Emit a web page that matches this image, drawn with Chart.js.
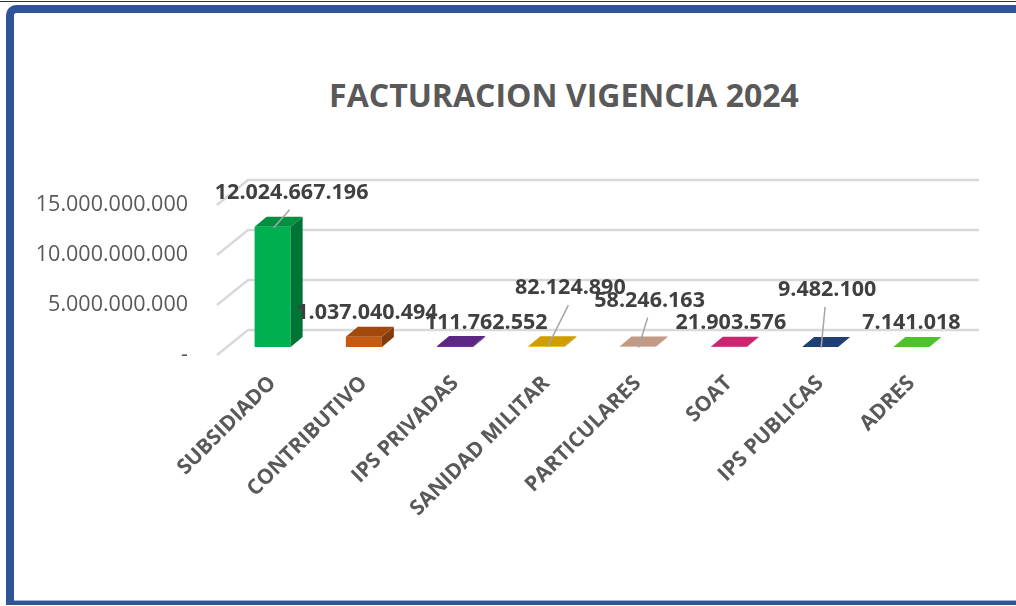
<!DOCTYPE html>
<html>
<head>
<meta charset="utf-8">
<script src="https://cdn.jsdelivr.net/npm/chart.js@4/dist/chart.umd.min.js"></script>
<style>
  html, body { margin: 0; padding: 0; background: #ffffff; }
  body { width: 1016px; height: 606px; position: relative; overflow: hidden; }
  #topline { position: absolute; left: 0; top: 1px; width: 1016px; height: 1px; background: #333; }
  #frame { position: absolute; left: 6px; top: 5px; width: 1100px; height: 588px;
           border-left: 8px solid #2F5597; border-top: 8px solid #2F5597; border-bottom: 4px solid #2F5597;
           border-top-left-radius: 10px; }
  #frame::after { content: ""; position: absolute; left: 0; right: 0; bottom: 0; height: 1px; background: #9DB3DA; }
  #title { position: absolute; left: 0; width: 1128px; top: 73px; text-align: center;
           font-family: "Open Sans", sans-serif; font-weight: 700; font-size: 32px; color: #595959; }
  canvas { position: absolute; left: 0; top: 0; }
</style>
</head>
<body>
<div id="topline"></div>
<div id="frame"></div>
<div id="title">FACTURACION VIGENCIA 2024</div>
<canvas id="c" width="1016" height="606"></canvas>
<script>
// ---- data ----
const categories = ["SUBSIDIADO", "CONTRIBUTIVO", "IPS PRIVADAS", "SANIDAD MILITAR", "PARTICULARES", "SOAT", "IPS PUBLICAS", "ADRES"];
const values = [12024667196, 1037040494, 111762552, 82124890, 58246163, 21903576, 9482100, 7141018];
const yTickValues = [0, 5000000000, 10000000000, 15000000000];

// ---- styles ----
const frontColors = ["#00B050", "#C55A11", "#7030A0", "#FFC000", "#EDBBA2", "#F52D88", "#274D8C", "#5EEC33"];
// label offsets relative to bar top centre (layout only)
const labelOffsets = [[19, -35], [3, -25], [31, -24], [24, -59], [12, -47], [2, -25], [7, -58], [0, -25]];
const leaderLines = [true, false, false, true, true, false, true, false];

function fmt(v) {
  if (v === 0) return "-";
  return String(Math.round(v)).replace(/\B(?=(\d{3})+(?!\d))/g, ".");
}
function shade(hex, f) {
  const n = parseInt(hex.slice(1), 16);
  const r = Math.round(((n >> 16) & 255) * f), g = Math.round(((n >> 8) & 255) * f), b = Math.round((n & 255) * f);
  return "rgb(" + r + "," + g + "," + b + ")";
}

const DX = 12, DY = -10;

const gridPlugin = {
  id: "grid3d",
  beforeDatasetsDraw(chart) {
    const ctx = chart.ctx, y = chart.scales.y, a = chart.chartArea;
    ctx.save();
    ctx.strokeStyle = "#D9D9D9";
    ctx.lineWidth = 2.5;
    yTickValues.forEach(v => {
      const py = y.getPixelForValue(v);
      ctx.beginPath();
      ctx.moveTo(a.left - 10, py + 8);
      ctx.lineTo(a.left + 21, py - 17);
      ctx.lineTo(a.right + 22, py - 17);
      ctx.stroke();
    });
    ctx.restore();
  }
};

const bar3dPlugin = {
  id: "bar3d",
  afterDatasetsDraw(chart) {
    const ctx = chart.ctx;
    const meta = chart.getDatasetMeta(0);
    ctx.save();
    meta.data.forEach((el, i) => {
      const p = el.getProps(["x", "y", "width", "base"], true);
      const l = p.x - p.width / 2, r = p.x + p.width / 2;
      ctx.fillStyle = shade(frontColors[i], 0.66);
      ctx.beginPath();
      ctx.moveTo(r, p.y); ctx.lineTo(r + DX, p.y + DY); ctx.lineTo(r + DX, p.base + DY); ctx.lineTo(r, p.base);
      ctx.closePath(); ctx.fill();
      ctx.fillStyle = shade(frontColors[i], 0.82);
      ctx.beginPath();
      ctx.moveTo(l, p.y); ctx.lineTo(r, p.y); ctx.lineTo(r + DX, p.y + DY); ctx.lineTo(l + DX, p.y + DY);
      ctx.closePath(); ctx.fill();
    });
    ctx.font = "bold 21.5px 'Open Sans'";
    ctx.textAlign = "center";
    ctx.textBaseline = "middle";
    meta.data.forEach((el, i) => {
      const p = el.getProps(["x", "y"], true);
      const lx = p.x + labelOffsets[i][0], ly = p.y + labelOffsets[i][1];
      if (leaderLines[i]) {
        ctx.strokeStyle = "#A6A6A6";
        ctx.lineWidth = 1.5;
        ctx.beginPath();
        ctx.moveTo(p.x + 1, p.y + 1);
        ctx.lineTo(lx - 2, ly + 18);
        ctx.stroke();
      }
      ctx.fillStyle = "#404040";
      ctx.fillText(fmt(values[i]), lx, ly + 1);
    });
    ctx.restore();
  }
};

new Chart(document.getElementById("c"), {
  type: "bar",
  data: {
    labels: categories,
    datasets: [{
      data: values,
      backgroundColor: frontColors,
      borderWidth: 0,
      barPercentage: 0.395,
      categoryPercentage: 1
    }]
  },
  options: {
    responsive: false,
    animation: false,
    devicePixelRatio: 1,
    layout: { padding: { left: 0, right: 59, top: 197, bottom: 0 } },
    plugins: { legend: { display: false }, tooltip: { enabled: false }, title: { display: false } },
    scales: {
      x: {
        grid: { display: false, drawTicks: false },
        border: { display: false },
        ticks: {
          autoSkip: false, maxRotation: 45, minRotation: 45,
          color: "#595959", padding: 24,
          font: { family: "'Open Sans'", size: 21, weight: "700" }
        },
        afterFit(s) { s.height = 606 - 347; }
      },
      y: {
        min: 0, max: 15000000000,
        grid: { display: false, drawTicks: false },
        border: { display: false },
        afterBuildTicks(s) { s.ticks = yTickValues.map(v => ({ value: v })); },
        ticks: {
          callback: v => fmt(v),
          color: "#595959", padding: 39, labelOffset: 8,
          font: { family: "'Open Sans'", size: 21.5, weight: "400" }
        },
        afterFit(s) { s.width = 227; }
      }
    }
  },
  plugins: [gridPlugin, bar3dPlugin]
});
</script>
</body>
</html>
